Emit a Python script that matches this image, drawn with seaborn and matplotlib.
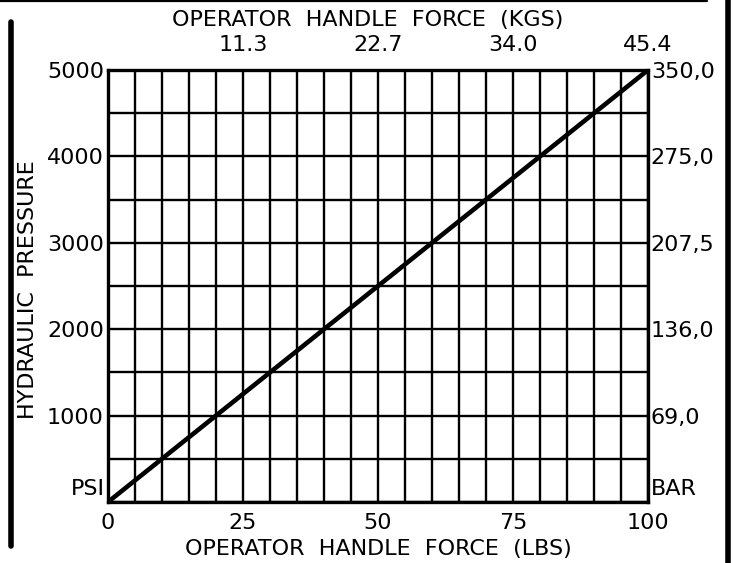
import numpy as np
import seaborn as sns
import matplotlib as mpl
import matplotlib.pyplot as plt
from matplotlib.lines import Line2D
mpl.use('Agg')

# chart data
force_lbs = [0, 25, 50, 75, 100]
pressure_psi = [0, 1250, 2500, 3750, 5000]

lbs_ticks = [0, 25, 50, 75, 100]
psi_ticks = [1000, 2000, 3000, 4000, 5000]
kgs_ticks = [25, 50, 75, 100]
kgs_labels = ['11.3', '22.7', '34.0', '45.4']
bar_labels = ['69,0', '136,0', '207,5', '275,0', '350,0']

W, H = 735, 563

sns.set_style('white')
plt.rcParams['font.family'] = ['DejaVu Sans']
plt.rcParams['axes.unicode_minus'] = False
plt.rcParams['text.color'] = 'black'

fig = plt.figure(figsize=(W / 100, H / 100), dpi=100)
ax = fig.add_axes([108 / W, 1 - 502 / H, 540 / W, 432 / H])

sns.lineplot(x=force_lbs, y=pressure_psi, ax=ax, color='black', linewidth=3.3)

ax.set_xlim(0, 100)
ax.set_ylim(0, 5000)
ax.set_xticks(lbs_ticks)
ax.set_yticks(psi_ticks)
ax.set_xticks(np.arange(0, 101, 5), minor=True)
ax.set_yticks(np.arange(0, 5001, 500), minor=True)
ax.grid(True, which='both', color='black', linewidth=1.7)
ax.set_axisbelow(True)
for s in ax.spines.values():
    s.set_color('black')
    s.set_linewidth(2.4)
ax.tick_params(which='both', length=0)
ax.tick_params(axis='x', pad=8, labelsize=16, colors='black')
ax.tick_params(axis='y', pad=3, labelsize=16, colors='black')
ax.set_xlabel('')
ax.set_ylabel('')

# top axis: kgs
top = ax.twiny()
top.set_xlim(0, 100)
top.set_xticks(kgs_ticks)
top.set_xticklabels(kgs_labels)
top.tick_params(length=0, pad=11, labelsize=16, colors='black')
for s in top.spines.values():
    s.set_visible(False)

# right axis: bar
right = ax.twinx()
right.set_ylim(0, 5000)
right.set_yticks(psi_ticks)
right.set_yticklabels(bar_labels)
right.tick_params(length=0, pad=2, labelsize=16, colors='black')
for s in right.spines.values():
    s.set_visible(False)

ax.text(-0.5, 150, 'PSI', ha='right', va='center', fontsize=16, color='black')
right.text(100.6, 150, 'BAR', ha='left', va='center', fontsize=16, color='black')

fig.text(368 / W, 1 - 20 / H, 'OPERATOR  HANDLE  FORCE  (KGS)',
         ha='center', va='center', fontsize=16, color='black')
fig.text(378 / W, 1 - 549 / H, 'OPERATOR  HANDLE  FORCE  (LBS)',
         ha='center', va='center', fontsize=16, color='black')
fig.text(28 / W, 1 - 290 / H, 'HYDRAULIC  PRESSURE', rotation=90,
         ha='center', va='center', fontsize=16, color='black')

# drawing frame
fig.add_artist(Line2D([0, 707 / W], [1 - 1 / H, 1 - 1 / H],
                      color='black', linewidth=1.6, transform=fig.transFigure))
fig.add_artist(Line2D([728 / W, 728 / W], [0, 1], color='black',
                      linewidth=4, transform=fig.transFigure))
fig.add_artist(Line2D([11 / W, 11 / W], [1 - 22 / H, 1 - 546 / H],
                      color='black', linewidth=4, solid_capstyle='round',
                      transform=fig.transFigure))

fig.savefig('out.png', dpi=100, facecolor='white')
